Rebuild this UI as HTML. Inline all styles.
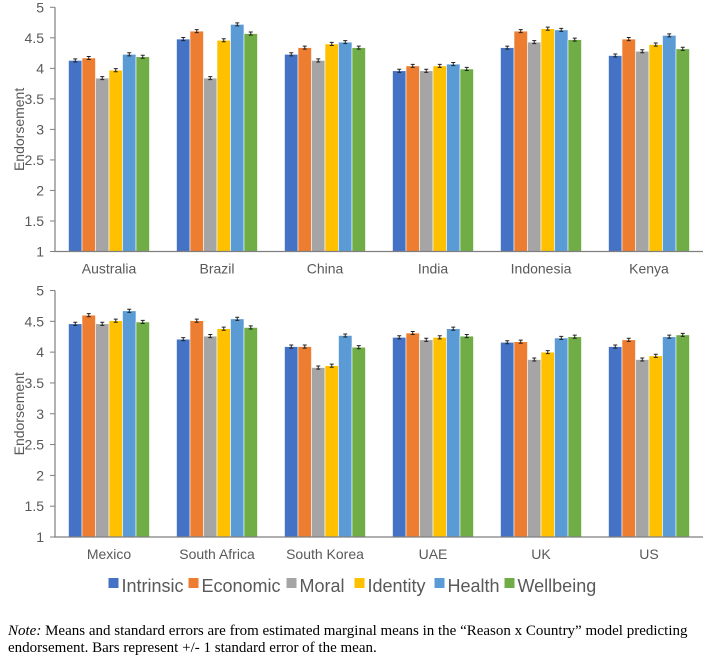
<!DOCTYPE html>
<html><head><meta charset="utf-8"><style>
body{margin:0;background:#fff;width:708px;height:657px;overflow:hidden;}
svg{display:block;}
</style></head><body>
<svg id="chart" width="708" height="657" xmlns="http://www.w3.org/2000/svg" font-family="Liberation Sans, sans-serif">
<text x="8" y="635" font-family="Liberation Serif, serif" font-size="15" fill="#000"><tspan font-style="italic">Note:</tspan> Means and standard errors are from estimated marginal means in the “Reason x Country” model predicting</text>
<text x="8" y="652" font-family="Liberation Serif, serif" font-size="15" fill="#000">endorsement. Bars represent +/- 1 standard error of the mean.</text>
</svg>
<script>
const series = ["Intrinsic","Economic","Moral","Identity","Health","Wellbeing"];
const colors = ["#4472C4","#ED7D31","#A5A5A5","#FFC000","#5B9BD5","#70AD47"];
const countriesTop = ["Australia","Brazil","China","India","Indonesia","Kenya"];
const countriesBottom = ["Mexico","South Africa","South Korea","UAE","UK","US"];
const yTicks = [1,1.5,2,2.5,3,3.5,4,4.5,5];
const yTickLabels = ["1","1.5","2","2.5","3","3.5","4","4.5","5"];
// values per country: [Intrinsic, Economic, Moral, Identity, Health, Wellbeing]
const australia = [4.13,4.17,3.84,3.97,4.23,4.19];
const brazil = [4.48,4.61,3.84,4.46,4.72,4.57];
const china = [4.23,4.34,4.13,4.40,4.43,4.34];
const india = [3.96,4.04,3.96,4.04,4.07,3.99];
const indonesia = [4.34,4.61,4.43,4.65,4.63,4.47];
const kenya = [4.21,4.48,4.28,4.39,4.54,4.32];
const mexico = [4.46,4.60,4.46,4.51,4.67,4.49];
const southAfrica = [4.21,4.51,4.26,4.38,4.54,4.40];
const southKorea = [4.09,4.09,3.75,3.78,4.27,4.08];
const uae = [4.24,4.31,4.20,4.24,4.38,4.26];
const uk = [4.16,4.17,3.88,4.00,4.23,4.25];
const us = [4.09,4.20,3.88,3.94,4.25,4.28];
const stdErr = [0.025,0.025,0.025,0.025,0.025,0.025];
const valuesTop = [australia,brazil,china,india,indonesia,kenya];
const valuesBottom = [mexico,southAfrica,southKorea,uae,uk,us];

const NS="http://www.w3.org/2000/svg";
const svg=document.getElementById('chart');
function mk(tag,attrs,parent){const e=document.createElementNS(NS,tag);for(const k in attrs)e.setAttribute(k,attrs[k]);(parent||svg).appendChild(e);return e;}

function panel(name,cats,vals,yTop,yBase){
  const g=mk('g',{});
  
  
  const x0=55,x1=703,ymin=1,ymax=5;
  const yS=v=>yBase-(v-ymin)/(ymax-ymin)*(yBase-yTop);
  const band=(x1-x0)/cats.length, bw=13.5;
  yTicks.forEach((t,i)=>{
    const y=yS(t);
    const tk=mk('line',{x1:x0-5,x2:x0,y1:y,y2:y,stroke:'#7f7f7f','stroke-width':1},g);
    
    
    const tl=mk('text',{x:x0-11,y:y+5,'text-anchor':'end','font-size':14,fill:'#595959'},g);
    
    
    tl.textContent=yTickLabels[i];
  });
  const yc=(yTop+yBase)/2;
  const yt=mk('text',{x:0,y:0,transform:`translate(24,${yc}) rotate(-90)`,'text-anchor':'middle','font-size':14,fill:'#595959'},g);
  
  
  yt.textContent='Endorsement';
  cats.forEach((c,ci)=>{
    const cx=x0+band*(ci+0.5);
    const start=cx-bw*series.length/2;
    vals[ci].forEach((v,si)=>{
      const x=start+si*bw, y=yS(v);
      const r=mk('rect',{x:x,y:y,width:bw,height:yBase-y,fill:colors[si],stroke:'#fff','stroke-width':0.6},g);
      
      
      const yh=yS(v+stdErr[si]), yl=yS(v-stdErr[si]), mx=x+bw/2;
      const eb=mk('path',{d:`M${mx},${yh}V${yl}M${mx-2},${yh}H${mx+2}M${mx-2},${yl}H${mx+2}`,stroke:'#222','stroke-width':1,fill:'none'},g);
      
      
    });
    const lt=mk('text',{x:cx,y:yBase+22,'text-anchor':'middle','font-size':14,fill:'#595959'},g);
    
    
    lt.textContent=c;
  });
  const ax=mk('path',{d:`M${x0},${yTop}V${yBase}H${x1}`,stroke:'#7f7f7f','stroke-width':1.2,fill:'none'},g);
  
  
}
panel('top-panel',countriesTop,valuesTop,7.3,251.5);
panel('bottom-panel',countriesBottom,valuesBottom,290.5,537);

// legend
const lg=mk('g',{});


const widths=[80,98,68,80,70,95];
let total=widths.reduce((a,b)=>a+b,0);
let lx=354-total/2;
series.forEach((s,i)=>{
  const sq=mk('rect',{x:lx,y:578,width:10,height:10,fill:colors[i]},lg);
  
  
  const t=mk('text',{x:lx+13,y:592,'font-size':18,fill:'#595959'},lg);
  
  
  t.textContent=s;
  lx+=widths[i];
});
</script>
</body></html>
